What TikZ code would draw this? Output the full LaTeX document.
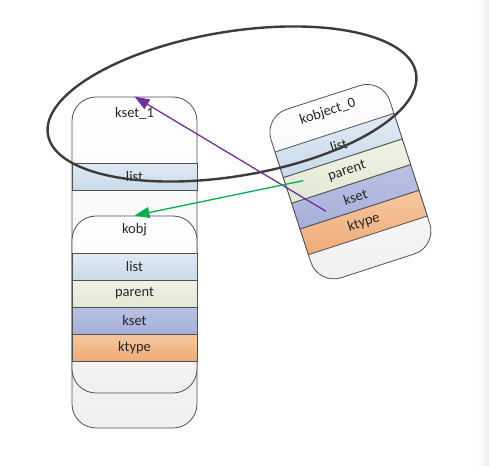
\documentclass[tikz,border=0pt]{standalone}
\usepackage{fontspec}
\setmainfont{Carlito}
\usetikzlibrary{arrows.meta}

\definecolor{boxline}{HTML}{505050}
\definecolor{ringline}{HTML}{3C3C3C}
\definecolor{list-top}{HTML}{E0EAF4}
\definecolor{list-bot}{HTML}{C9DAEA}
\definecolor{parent-top}{HTML}{EFF3E6}
\definecolor{parent-bot}{HTML}{E1E8D2}
\definecolor{kset-top}{HTML}{BAC1E3}
\definecolor{kset-bot}{HTML}{A5AFD9}
\definecolor{ktype-top}{HTML}{F5C7A0}
\definecolor{ktype-bot}{HTML}{EEAB76}
\definecolor{setarrow}{HTML}{7030A0}
\definecolor{parentarrow}{HTML}{00B050}

\tikzset{
  objbox/.style={draw=boxline, line width=0.8pt, rounded corners=24pt, minimum width=125pt, inner sep=0pt, top color=white, bottom color=black!6},
  field/.style={draw=boxline, line width=0.8pt, minimum width=125pt, minimum height=27pt, inner sep=0pt, text=black!85},
  title/.style={text=black!85, inner sep=1pt},
  pointer/.style={line width=1.3pt, -{Triangle[length=15pt, width=11pt]}}
}

\begin{document}
\begin{tikzpicture}[x=1pt, y=-1pt, font=\fontsize{14.5}{17}\selectfont]
  \useasboundingbox (0, 0) rectangle (489, 465);
  % Window edge
  \fill [left color=white, right color=black!7] (477, 0) rectangle (489, 465);
  % kset_1
  \node [objbox, minimum height=331pt] (kset-1) at (134.5, 262.5) {};
  \node [title] (kset-1-title) at (134.5, 113) {kset\_1};
  \node [field, top color=list-top, bottom color=list-bot] (kset-1-list) at (134.5, 176.5) {list};
  % kobj inside kset_1
  \begin{scope}[shift={(72, 216)}]
    \node [objbox, minimum height=177pt] (kobj) at (62.5, 88.5) {};
    \node [title] (kobj-title) at (62.5, 14) {kobj};
    \foreach \f [count=\i] in {list, parent, kset, ktype}
      \node [field, top color=\f-top, bottom color=\f-bot] (kobj-\f) at (62.5, 23.5 + 27 * \i) {\f};
  \end{scope}
  % kobject_0
  \begin{scope}[shift={(263.6, 116.8)}, rotate=18, transform shape]
    \node [objbox, minimum height=177pt] (kobject-0) at (62.5, 88.5) {};
    \node [title] (kobject-0-title) at (62.5, 15) {kobject\_0};
    \foreach \f [count=\i] in {list, parent, kset, ktype}
      \node [field, top color=\f-top, bottom color=\f-bot] (k0-\f) at (62.5, 23.5 + 27 * \i) {\f};
    \coordinate (k0-from-kset) at (30, 109);
    \coordinate (k0-from-parent) at (18, 73);
  \end{scope}
  % Ring
  \draw [ringline, line width=2.4pt, rotate around={9.45:(232, 104)}] (232, 104) ellipse (186.6 and 72.2);
  % Arrows
  \draw [pointer, setarrow] (k0-from-kset) -- (kset-1.north);
  \draw [pointer, parentarrow] (k0-from-parent) -- (kobj.north);
\end{tikzpicture}
\end{document}
